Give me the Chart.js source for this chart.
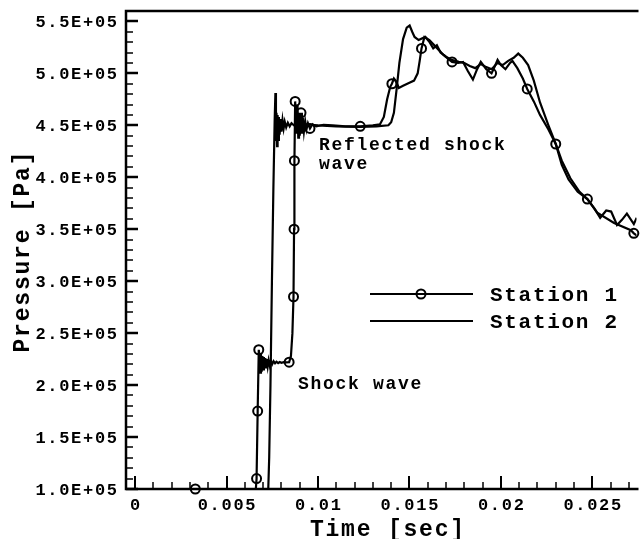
<!DOCTYPE html>
<html>
<head>
<meta charset="utf-8">
<title>Pressure history</title>
<script src="https://cdn.jsdelivr.net/npm/chart.js@4.4.1/dist/chart.umd.min.js"></script>
<style>
  html, body { margin: 0; padding: 0; background: #fff; overflow: hidden; }
  canvas { display: block; }
</style>
</head>
<body>
<canvas id="myChart" width="643" height="539"></canvas>
<script>
// Station 1 (line with circle symbols)
const s1Time = [0, 0.0066, 0.00664, 0.0067, 0.00676, 0.0068, 0.00684, 0.00688, 0.00692, 0.00696,
  0.007, 0.00704, 0.00708, 0.00712, 0.00716, 0.0072, 0.00725, 0.0073, 0.00736, 0.00742,
  0.00749, 0.00757, 0.00765, 0.00773, 0.00782, 0.00791, 0.008, 0.00812, 0.00825, 0.00842,
  0.00852, 0.0086, 0.00866, 0.00869, 0.00871, 0.00875, 0.0088, 0.00884, 0.00888, 0.00892,
  0.00896, 0.009, 0.00907, 0.00912, 0.00917, 0.00923, 0.0093, 0.00937, 0.00945, 0.00956,
  0.0097, 0.0099, 0.0103, 0.0108, 0.0115, 0.01231, 0.013, 0.01339, 0.0136, 0.01378,
  0.01395, 0.01404, 0.01415, 0.01428, 0.01442, 0.01465, 0.015, 0.01525, 0.01545, 0.01556,
  0.01566, 0.01582, 0.01609, 0.01647, 0.01685, 0.01712, 0.01733, 0.01766, 0.01793, 0.0182,
  0.01847, 0.0187, 0.0189, 0.0192, 0.01949, 0.0197, 0.01982, 0.02, 0.02025, 0.0205,
  0.02063, 0.0209, 0.0212, 0.02144, 0.0218, 0.02214, 0.0226, 0.023, 0.02333, 0.0237,
  0.0242, 0.02473, 0.02527, 0.02619, 0.02711, 0.02727, 0.0276];
const s1Pres = [1.0e5, 1.0e5, 1.1e5, 1.75e5, 2.34e5, 2.28e5, 2.12e5, 2.3e5, 2.13e5, 2.28e5,
  2.15e5, 2.27e5, 2.16e5, 2.26e5, 2.17e5, 2.25e5, 2.18e5, 2.24e5, 2.19e5, 2.235e5,
  2.2e5, 2.23e5, 2.21e5, 2.225e5, 2.212e5, 2.222e5, 2.215e5, 2.22e5, 2.218e5, 2.22e5,
  2.28e5, 2.5e5, 2.85e5, 3.5e5, 4.16e5, 4.73e5, 4.55e5, 4.42e5, 4.7e5, 4.38e5,
  4.62e5, 4.4e5, 4.62e5, 4.42e5, 4.57e5, 4.44e5, 4.54e5, 4.46e5, 4.52e5, 4.47e5,
  4.51e5, 4.49e5, 4.505e5, 4.5e5, 4.49e5, 4.49e5, 4.5e5, 4.51e5, 4.58e5, 4.75e5,
  4.87e5, 4.9e5, 4.95e5, 4.92e5, 4.86e5, 4.88e5, 4.91e5, 4.93e5, 5.0e5, 5.12e5,
  5.24e5, 5.35e5, 5.32e5, 5.25e5, 5.18e5, 5.14e5, 5.11e5, 5.1e5, 5.11e5, 5.02e5,
  4.94e5, 5.04e5, 5.11e5, 5.04e5, 5.0e5, 5.08e5, 5.13e5, 5.08e5, 5.04e5, 5.1e5,
  5.12e5, 5.05e5, 4.95e5, 4.85e5, 4.73e5, 4.6e5, 4.46e5, 4.32e5, 4.12e5, 3.98e5,
  3.86e5, 3.79e5, 3.66e5, 3.56e5, 3.49e5, 3.46e5, 3.42e5];

// Station 1 symbol positions
const s1MarkTime = [0.00329, 0.00664, 0.0067, 0.00676, 0.00842, 0.00866, 0.00869, 0.00871,
  0.00875, 0.00907, 0.00956, 0.01231, 0.01404, 0.01566, 0.01733, 0.01949, 0.02144, 0.023,
  0.02473, 0.02727];
const s1MarkPres = [1.0e5, 1.1e5, 1.75e5, 2.34e5, 2.22e5, 2.85e5, 3.5e5, 4.16e5,
  4.73e5, 4.62e5, 4.47e5, 4.49e5, 4.9e5, 5.24e5, 5.11e5, 5.0e5, 4.85e5, 4.32e5,
  3.79e5, 3.46e5];

// Station 2 (plain line)
const s2Time = [0, 0.00728, 0.00733, 0.0074, 0.00748, 0.00756, 0.00763, 0.00767, 0.0077, 0.00773,
  0.00776, 0.00779, 0.00782, 0.00786, 0.0079, 0.00795, 0.008, 0.00806, 0.00812, 0.00818,
  0.00826, 0.00835, 0.00845, 0.00855, 0.00868, 0.00885, 0.00905, 0.0093, 0.01, 0.011,
  0.0123, 0.0132, 0.01385, 0.014, 0.01415, 0.0143, 0.01445, 0.01465, 0.01485, 0.01501,
  0.01515, 0.01528, 0.0155, 0.01587, 0.0161, 0.0163, 0.0165, 0.0167, 0.017, 0.0173, 0.0177,
  0.018, 0.0183, 0.0186, 0.0189, 0.0192, 0.0195, 0.0198, 0.0201, 0.0204, 0.0207,
  0.02095, 0.0212, 0.02149, 0.0218, 0.02214, 0.0226, 0.023, 0.02333, 0.0238, 0.0243,
  0.02473, 0.02511, 0.02543, 0.02576, 0.02603, 0.02635, 0.02662, 0.02689, 0.02727, 0.02743,
  0.0276];
const s2Pres = [1.0e5, 1.0e5, 1.3e5, 2.0e5, 3.0e5, 3.9e5, 4.55e5, 4.81e5, 4.35e5, 4.62e5,
  4.3e5, 4.6e5, 4.36e5, 4.58e5, 4.41e5, 4.56e5, 4.44e5, 4.55e5, 4.47e5, 4.535e5,
  4.48e5, 4.525e5, 4.49e5, 4.52e5, 4.5e5, 4.515e5, 4.5e5, 4.51e5, 4.5e5, 4.49e5,
  4.485e5, 4.49e5, 4.5e5, 4.53e5, 4.62e5, 4.85e5, 5.1e5, 5.33e5, 5.44e5, 5.46e5,
  5.4e5, 5.35e5, 5.32e5, 5.35e5, 5.3e5, 5.24e5, 5.27e5, 5.2e5, 5.16e5, 5.13e5, 5.11e5,
  5.1e5, 5.07e5, 5.05e5, 5.09e5, 5.06e5, 5.04e5, 5.1e5, 5.08e5, 5.12e5, 5.15e5,
  5.19e5, 5.15e5, 5.08e5, 4.93e5, 4.72e5, 4.5e5, 4.32e5, 4.16e5, 3.99e5, 3.86e5,
  3.79e5, 3.7e5, 3.61e5, 3.68e5, 3.67e5, 3.54e5, 3.59e5, 3.65e5, 3.55e5, 3.61e5,
  3.58e5];

// Axis ticks and labels
const xTicks = [0, 0.005, 0.01, 0.015, 0.02, 0.025];
const xTickLabels = ['0', '0.005', '0.01', '0.015', '0.02', '0.025'];
const yTicks = [1.0e5, 1.5e5, 2.0e5, 2.5e5, 3.0e5, 3.5e5, 4.0e5, 4.5e5, 5.0e5, 5.5e5];
const yTickLabels = ['1.0E+05', '1.5E+05', '2.0E+05', '2.5E+05', '3.0E+05',
  '3.5E+05', '4.0E+05', '4.5E+05', '5.0E+05', '5.5E+05'];
const seriesNames = ['Station 1', 'Station 2'];

const FONT = '"Liberation Mono", "Courier New", monospace';

// Build {x, y} points for the library
function toPoints(xs, ys) {
  return xs.map((x, i) => ({ x: x, y: ys[i] }));
}

// Draw text with letter spacing, left/center/right aligned
function spacedText(c, text, x, y, size, spacing, align) {
  c.save();
  c.font = 'bold ' + size + 'px ' + FONT;
  c.letterSpacing = '0px';
  let w = c.measureText(text).width + spacing * (text.length - 1);
  let start = x;
  if (align === 'center') start = x - w / 2;
  if (align === 'right') start = x - w;
  c.letterSpacing = spacing + 'px';
  c.textAlign = 'left';
  c.textBaseline = 'alphabetic';
  c.fillStyle = '#000';
  c.fillText(text, start, y);
  c.restore();
}

// Frame, inward ticks, labels, titles, legend and notes
const axesPlugin = {
  id: 'tecplotAxes',
  afterDraw(chart) {
    const c = chart.ctx;
    const area = chart.chartArea;
    const xs = chart.scales.x;
    const ys = chart.scales.y;

    c.save();
    c.strokeStyle = '#000';
    c.lineCap = 'butt';

    // frame (right side is off the picture)
    c.lineWidth = 2.5;
    c.beginPath();
    c.moveTo(area.right + 2, area.top);
    c.lineTo(area.left, area.top);
    c.lineTo(area.left, area.bottom);
    c.lineTo(area.right + 2, area.bottom);
    c.stroke();

    // x ticks
    const xStep = xTicks[1] - xTicks[0];
    for (let v = xTicks[0]; v <= xs.max + 1e-9; v += xStep / 5) {
      const px = Math.round(xs.getPixelForValue(v));
      const major = Math.abs(v / xStep - Math.round(v / xStep)) < 1e-6;
      c.lineWidth = major ? 2 : 1.5;
      c.beginPath();
      c.moveTo(px, area.bottom);
      c.lineTo(px, area.bottom - (major ? 13 : 7));
      c.stroke();
    }

    // y ticks
    const yStep = yTicks[1] - yTicks[0];
    for (let v = yTicks[0]; v <= ys.max + 1; v += yStep / 5) {
      const py = Math.round(ys.getPixelForValue(v));
      const major = Math.abs((v - yTicks[0]) / yStep - Math.round((v - yTicks[0]) / yStep)) < 1e-6;
      c.lineWidth = major ? 2.5 : 1.5;
      c.beginPath();
      c.moveTo(area.left, py);
      c.lineTo(area.left + (major ? 12 : 7), py);
      c.stroke();
    }
    c.restore();

    // tick labels
    xTicks.forEach((v, i) => {
      spacedText(c, xTickLabels[i], xs.getPixelForValue(v), 510, 17, 1.7, 'center');
    });
    yTicks.forEach((v, i) => {
      spacedText(c, yTickLabels[i], 117, ys.getPixelForValue(v) + 5.5, 17, 1.7, 'right');
    });

    // axis titles
    spacedText(c, 'Time [sec]', 387, 536, 23, 1.8, 'center');
    c.save();
    c.translate(29, 252);
    c.rotate(-Math.PI / 2);
    spacedText(c, 'Pressure [Pa]', 0, 0, 23, 1.8, 'center');
    c.restore();

    // legend
    c.save();
    c.strokeStyle = '#000';
    c.lineWidth = 2;
    c.beginPath();
    c.moveTo(370, 294); c.lineTo(473, 294);
    c.moveTo(370, 321); c.lineTo(473, 321);
    c.stroke();
    c.beginPath();
    c.arc(421, 294, 4.5, 0, Math.PI * 2);
    c.stroke();
    c.restore();
    spacedText(c, seriesNames[0], 490, 301, 21, 1.7, 'left');
    spacedText(c, seriesNames[1], 490, 328, 21, 1.7, 'left');

    // notes
    spacedText(c, 'Reflected shock', 319, 150, 18, 1.7, 'left');
    spacedText(c, 'wave', 319, 169, 18, 1.7, 'left');
    spacedText(c, 'Shock wave', 298, 389, 18, 1.7, 'left');
  }
};

const ctx = document.getElementById('myChart').getContext('2d');

const myChart = new Chart(ctx, {
  type: 'line',
  data: {
    datasets: [
      {
        label: seriesNames[0],
        data: toPoints(s1Time, s1Pres),
        borderColor: '#000',
        borderWidth: 2.2,
        pointRadius: 0,
        tension: 0,
      },
      {
        label: seriesNames[1],
        data: toPoints(s2Time, s2Pres),
        borderColor: '#000',
        borderWidth: 2.2,
        pointRadius: 0,
        tension: 0,
      },
      {
        label: seriesNames[0] + ' symbols',
        data: toPoints(s1MarkTime, s1MarkPres),
        showLine: false,
        pointStyle: 'circle',
        pointRadius: 4.5,
        pointBorderWidth: 2,
        pointBorderColor: '#000',
        pointBackgroundColor: 'rgba(0,0,0,0)',
        clip: false,
      },
    ],
  },
  options: {
    responsive: false,
    animation: false,
    devicePixelRatio: 1,
    layout: {
      padding: { left: 126, top: 11, right: 0, bottom: 50 },
    },
    plugins: {
      legend: { display: false },
      tooltip: { enabled: false },
    },
    scales: {
      x: { type: 'linear', display: false, min: -0.0005, max: 0.027416 },
      y: { type: 'linear', display: false, min: 1.0e5, max: 5.6e5 },
    },
  },
  plugins: [axesPlugin],
});
</script>
</body>
</html>
